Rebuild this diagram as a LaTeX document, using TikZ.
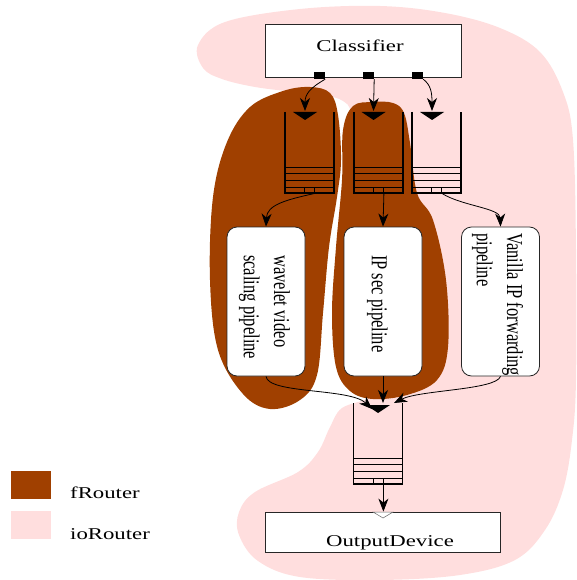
\documentclass[tikz,border=0pt]{standalone}
\usepackage{fontspec}
\setmainfont{Liberation Serif}
\usetikzlibrary{arrows.meta}
\definecolor{fcol}{RGB}{160,64,0}
\definecolor{iocol}{RGB}{255,222,222}

\tikzset{
  box/.style={draw=black!85, line width=0.8pt, fill=white, inner sep=0pt},
  pipebox/.style={box, rounded corners=10pt, minimum width=78pt, minimum height=149pt},
  lbl/.style={font=\fontsize{16.5}{22}\selectfont, inner sep=0pt},
  port/.style={fill=black, inner sep=0pt, minimum width=11pt, minimum height=7pt},
  qwall/.style={line width=1.2pt},
  qline/.style={line width=0.8pt},
  qslot/.style={draw, line width=0.8pt, inner sep=0pt, minimum width=10pt, minimum height=6pt},
  flow/.style={line width=0.8pt, -{Stealth[length=13pt,width=10pt,inset=4pt]}},
}

% horizontally widened text
\newcommand\wide[1]{\scalebox{1.38}[1]{#1}}
% text running downwards, glyphs widened
\newcommand\down[1]{\scalebox{1.38}[1]{\rotatebox{-90}{\begin{tabular}{@{}l@{}}#1\end{tabular}}}}

% FIFO queue: name, centre x, top y, offset of the entry triangle, triangle top
\newcommand\fifo[5]{%
  \draw[qwall] ({#2-24.5},#3) -- ({#2-24.5},{#3+81}) -- ({#2+24.5},{#3+81}) -- ({#2+24.5},#3);
  \foreach \dy in {55,61,68,75}
    \draw[qline] ({#2-24.5},{#3+\dy}) -- ({#2+24.5},{#3+\dy});
  \node[qslot] (#1-slot) at (#2,{#3+78}) {};
  \fill ({#2+#4-12},#5) -- ({#2+#4+12},#5) -- ({#2+#4},{#5+8}) -- cycle;
  \coordinate (#1-tip) at ({#2+#4},{#5-1});
}

\begin{document}
\begin{tikzpicture}[x=1pt,y=-1pt]
\useasboundingbox (0,0) rectangle (576,580);

% ioRouter region
\fill[iocol] plot[smooth cycle, tension=0.6] coordinates {
  (198,45) (225,22) (300,9) (380,6) (445,13) (500,28) (540,52) (563,92)
  (573,140) (576,250) (576,380) (572,440) (563,490) (545,530) (515,560)
  (460,575) (380,580) (300,577) (258,561) (239,535) (239,512) (255,492)
  (298,472) (318,452) (330,427) (342,408) (372,395) (362,370) (356,250)
  (352,130) (343,101) (300,93) (255,87) (222,79) (203,68)};

% fRouter regions
\fill[fcol] plot[smooth cycle, tension=0.6] coordinates {
  (310,87) (330,93) (338,115) (341,160) (337,197) (329,247) (323,313)
  (317,375) (300,400) (270,409) (243,394) (218,350) (210,280) (213,197)
  (227,142) (250,107) (283,91)};
\fill[fcol] plot[smooth cycle, tension=0.6] coordinates {
  (373,102) (393,103) (404,113) (410,143) (417,193) (433,220) (446,280)
  (448,347) (437,380) (407,395) (373,399) (350,391) (336,367) (332,313)
  (336,247) (342,180) (343,130) (353,106)};

% legend
\fill[fcol] (11,471) rectangle (51,499);
\fill[iocol] (11,511) rectangle (51,539);
\node[lbl, anchor=base west] (legf) at (70,498) {\wide{fRouter}};
\node[lbl, anchor=base west] (legio) at (70,539) {\wide{ioRouter}};

% classifier
\node[box, minimum width=196pt, minimum height=53pt] (cls) at (363.5,51) {};
\node[lbl, anchor=base] (clst) at (360,52) {\wide{Classifier}};
\node[port] (p1) at (319.5,75.5) {};
\node[port] (p2) at (368.5,75.5) {};
\node[port] (p3) at (417.5,75.5) {};

% queues
\fifo{q1}{309.5}{112}{-4.5}{112}
\fifo{q2}{378.5}{112}{-5}{112}
\fifo{q3}{436.5}{112}{-4.5}{112}
\fifo{oq}{378}{403}{0}{405}

% pipelines
\node[pipebox] (pipe1) at (266,301.5) {};
\node[pipebox] (pipe2) at (383,301.5) {};
\node[pipebox] (pipe3) at (500.5,301.5) {};
\node[lbl, anchor=north] (pt1) at (265,255) {\down{wavelet video\\scaling pipeline}};
\node[lbl, anchor=north] (pt2) at (378,255) {\down{IP sec pipeline}};
\node[lbl, anchor=north] (pt3) at (498,233) {\down{Vanilla IP forwarding\\pipeline}};

% output device
\node[box, minimum width=235pt, minimum height=40pt] (out) at (382.5,532) {};
\node[lbl, anchor=base] (outt) at (390,546) {\wide{OutputDevice}};

% classifier to queues
\draw[flow] (p1.south east) .. controls (310,88) and (305,94) .. (q1-tip);
\draw[flow] (p2.south east) -- (q2-tip);
\draw[flow] (p3.south east) .. controls (431,85) and (432,93) .. (q3-tip);

% queues to pipelines
\draw[flow] (q1-slot.south east) .. controls (285,200) and (267,205) .. (pipe1.north);
\draw[flow] (q2-slot.south east) -- (pipe2.north);
\draw[flow] (q3-slot.south east) .. controls (462,206) and (500,208) .. (pipe3.north);

% pipelines to output queue
\coordinate (m1) at (372,409);
\coordinate (m2) at (383,403);
\coordinate (m3) at (394,403);
\draw[flow] (pipe1.south) .. controls (268,394) and (350,388) .. (m1);
\draw[flow] (pipe2.south) -- (m2);
\draw[flow] (pipe3.south) .. controls (496,390) and (420,390) .. (m3);

% output queue to device
\draw[flow] (oq-slot.south east) -- (oq-slot.south east |- out.north);
\draw[black!60, fill=white, line width=0.5pt] (373,512) -- (393,512) -- (383,518) -- cycle;
\end{tikzpicture}
\end{document}
